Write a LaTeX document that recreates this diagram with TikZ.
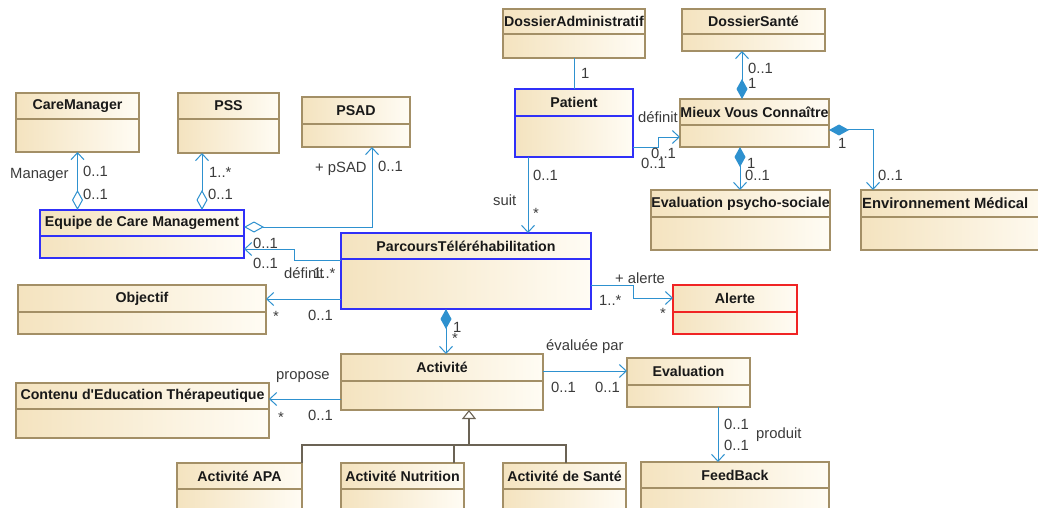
\documentclass[tikz,border=0pt]{standalone}
\usepackage{fontspec}
\setmainfont{Liberation Sans}
\usetikzlibrary{arrows.meta,calc}

\definecolor{clsline}{HTML}{A38F66}
\definecolor{clsfillL}{HTML}{F4E3BF}
\definecolor{clsfillR}{HTML}{FFFCF4}
\definecolor{clsblue}{HTML}{3030F8}
\definecolor{clsred}{HTML}{F02424}
\definecolor{lnk}{HTML}{2E91CF}
\definecolor{genline}{HTML}{6B6355}
\definecolor{lbltext}{HTML}{3B3B3B}

% class box: [title opts]{border}{name}{corner}{width}{height}{header height}{title}
\newcommand{\umlclass}[8][]{%
  \node[cls, minimum width=#5, minimum height=#6, anchor=north west] (#3) at (#4) {};
  \draw[#2, line width=1.1pt] (#3.north west) rectangle (#3.south east);
  \draw[#2, line width=1.1pt] ([yshift=-#7]#3.north west) -- ([yshift=-#7]#3.north east);
  \node[ttl, #1] (#3-t) at ([yshift=-#7/2]#3.north) {#8};}

\begin{document}
\begin{tikzpicture}[x=1pt, y=-1pt,
  cls/.style={rectangle, left color=clsfillL, right color=clsfillR, inner sep=0pt, outer sep=0pt},
  ttl/.style={font=\bfseries\fontsize{14.2}{17}\selectfont, text=black!90, inner sep=0pt},
  lbl/.style={font=\fontsize{14.8}{17}\selectfont, text=lbltext, inner sep=0pt, anchor=base west},
  assoc/.style={draw=lnk, line width=1pt},
  nav/.style={assoc, -{Straight Barb[length=7pt,width=13pt]}},
  agg/.style={assoc, {Diamond[fill=white,length=20pt,width=11pt]}-{Straight Barb[length=7pt,width=13pt]}},
  comp/.style={assoc, {Diamond[fill=lnk,length=20pt,width=11pt]}-{Straight Barb[length=7pt,width=13pt]}},
  gen/.style={draw=genline, line width=1.1pt}]
\useasboundingbox (0,0) rectangle (1038,508);
\fill[white] (0,0) rectangle (1038,508);
\clip (0,0) rectangle (1038,508);

% classes
\umlclass{clsline}{cm}{16,93}{123}{59}{26}{CareManager}
\umlclass{clsline}{pss}{178,93}{101}{60}{26}{PSS}
\umlclass{clsline}{psad}{302,97}{108}{50}{27}{PSAD}
\umlclass{clsblue}{eq}{40,210}{204}{48}{26}{Equipe de Care Management}
\umlclass{clsblue}{pt}{341,233}{250}{76}{26}{ParcoursTéléréhabilitation}
\umlclass{clsred}{al}{673,285}{124}{49}{27}{Alerte}
\umlclass{clsline}{da}{503,9}{142}{49}{25}{DossierAdministratif}
\umlclass{clsline}{ds}{682,9}{143}{42}{25}{DossierSanté}
\umlclass{clsblue}{pat}{515,89}{118}{68}{27}{Patient}
\umlclass{clsline}{mvc}{680,99}{149}{48}{26}{Mieux Vous Connaître}
\umlclass{clsline}{eps}{651,190}{179}{60}{27}{Evaluation psycho-sociale}
\umlclass[anchor=west, xshift=-99, font=\bfseries\fontsize{14.8}{17}\selectfont]{clsline}{env}{861,190}{200}{60}{27}{Environnement Médical}
\umlclass{clsline}{obj}{18,285}{248}{49}{27}{Objectif}
\umlclass{clsline}{ced}{16,383}{253}{55}{26}{Contenu d\textquotesingle Education Thérapeutique}
\umlclass{clsline}{act}{341,354}{202}{56}{27}{Activité}
\umlclass{clsline}{ev}{627,358}{123}{49}{27}{Evaluation}
\umlclass{clsline}{fb}{641,462}{188}{60}{26}{FeedBack}
\umlclass{clsline}{apa}{177,463}{125}{60}{26}{Activité APA}
\umlclass{clsline}{nut}{341,463}{123}{60}{26}{Activité Nutrition}
\umlclass{clsline}{san}{503,463}{123}{60}{26}{Activité de Santé}

% associations
\draw[agg] (cm.south |- eq.north) -- (cm.south);
\draw[agg] ([xshift=24]pss.south west |- eq.north) -- ([xshift=24]pss.south west);
\draw[agg] ([yshift=-17]eq.north east) -| ([xshift=70]psad.south west);
\draw[nav] ([yshift=-27]pt.north west) -- ++(-47,0) |- ([yshift=-39]eq.north east);
\draw[nav] ([yshift=-66]pt.north west) -- ([yshift=-66]pt.north west -| obj.east);
\draw[nav] ([xshift=13]pat.south west) -- ([xshift=13]pat.south west |- pt.north);
\draw[assoc] ([xshift=71]da.south west) -- ([xshift=71]da.south west |- pat.north);
\draw[nav] ([yshift=-58]pat.north east) -- ++(25,0) |- ([yshift=-38]mvc.north west);
\draw[comp] ([xshift=62]mvc.north west) -- ([xshift=62]mvc.north west |- ds.south);
\draw[comp] ([xshift=60]mvc.south west) -- ([xshift=60]mvc.south west |- eps.north);
\draw[comp] ([yshift=-31]mvc.north east) -| ([xshift=12]env.north west);
\draw[nav] ([yshift=-52]pt.north east) -- ++(42,0) |- ([yshift=-13]al.north west);
\draw[comp] ([xshift=105]pt.south west) -- ([xshift=105]pt.south west |- act.north);
\draw[nav] ([yshift=-17]act.north east) -- ([yshift=-17]act.north east -| ev.west);
\draw[nav] ([yshift=-45]act.north west) -- ([yshift=-45]act.north west -| ced.east);
\draw[nav] ([xshift=91]ev.south west) -- ([xshift=91]ev.south west |- fb.north);

% generalisation
\coordinate (gbar) at (469,445);
\draw[gen] (apa.north east) |- (gbar) -| ([xshift=63]san.north west);
\draw[gen] ([xshift=113]nut.north west) -- ([xshift=113]nut.north west |- gbar);
\draw[gen, -{Triangle[fill=white,length=9pt,width=14pt]}] (gbar) -- ([xshift=128]act.south west);

% roles and multiplicities
\foreach \x/\y/\t [count=\i] in {10/178/Manager, 83/176/0..1, 83/199/0..1, 209/177/1..*, 208/199/0..1,
  315/172/+ pSAD, 378/171/0..1, 253/248/0..1, 253/268/0..1, 284/278/définit, 313/278/1..*,
  273/321/*, 308/320/0..1, 581/79/1, 638/122/définit, 651/158/0..1, 641/168/0..1,
  533/180/0..1, 493/205/suit, 533/218/*, 748/74/0..1, 748/89/1, 747/168/1, 745/180/0..1,
  838/149/1, 878/180/0..1, 615/283/+ alerte, 599/305/1..*, 660/318/*, 453/332/1, 452/343/*,
  546/350/évaluée par, 551/392/0..1, 595/392/0..1, 724/429/0..1, 724/450/0..1, 756/438/produit,
  276/379/propose, 278/422/*, 308/420/0..1}
  \node[lbl] (m\i) at (\x,\y) {\t};
\end{tikzpicture}
\end{document}
